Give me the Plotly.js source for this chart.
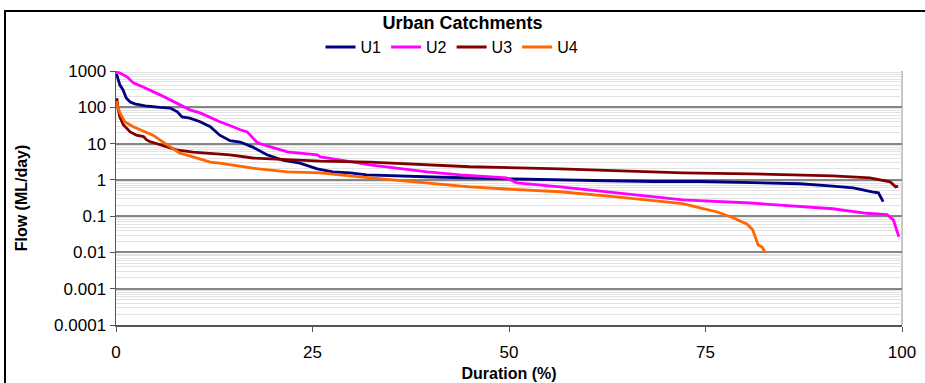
<!DOCTYPE html>
<html>
<head>
<meta charset="utf-8">
<script src="https://cdn.plot.ly/plotly-3.0.1.min.js"></script>
<style>
html,body{margin:0;padding:0;background:#fff;}
#wrap{position:relative;width:925px;height:383px;}
#chart{position:absolute;left:0;top:0;width:925px;height:383px;}
#frame{position:absolute;left:4px;top:10px;width:940px;height:400px;border-top:2px solid #000;border-left:2px solid #000;pointer-events:none;}
</style>
</head>
<body>
<div id="wrap"><div id="chart"></div><div id="frame"></div></div>
<script>
// Duration (%) and flow (ML/day) for each catchment
var u1Duration = [0, 0.1, 0.5, 0.9, 1.3, 1.8, 2.4, 3.7, 5.6, 6.9, 7.8, 8.4, 9.4, 10.7, 12, 13.2, 14.5, 15.8, 17.4, 19.2, 21.2, 23.4, 25.6, 27.6, 29.8, 31.9, 40.3, 44.7, 50.5, 60.7, 68.3, 74.3, 80.7, 87, 90.8, 93.8, 96.2, 97, 97.6];
var u1Flow = [820, 780, 410, 300, 180, 140, 124, 110, 100, 95, 75, 54, 50, 40, 29, 17, 12, 11, 8, 4.9, 3.5, 2.9, 2.0, 1.66, 1.56, 1.37, 1.2, 1.13, 1.06, 0.96, 0.9, 0.9, 0.83, 0.78, 0.68, 0.6, 0.47, 0.44, 0.25];

var u2Duration = [0, 0.5, 1.4, 2.2, 3.1, 4.3, 5.6, 6.9, 8.1, 9.4, 10.7, 12, 13.2, 14.9, 15.8, 16.7, 17.9, 18.3, 21.2, 21.8, 25.6, 26, 30.2, 32.3, 39.6, 43.8, 49.7, 51, 56.5, 63.7, 72.1, 80.7, 91.2, 95.5, 98.1, 98.9, 99.6];
var u2Flow = [950, 880, 690, 470, 390, 300, 220, 160, 116, 85, 70, 51, 40, 29, 24, 21, 11, 10, 6.7, 5.9, 4.9, 4.3, 3.1, 2.6, 1.66, 1.37, 1.13, 0.83, 0.64, 0.44, 0.28, 0.23, 0.16, 0.12, 0.11, 0.079, 0.027];

var u3Duration = [0.1, 0.25, 0.5, 0.93, 1.8, 2.6, 3.5, 3.9, 4.3, 5.6, 6.9, 7.7, 9.8, 12, 14.5, 17.4, 21.8, 26, 32.3, 39.6, 45, 56.5, 63.7, 72.1, 80.7, 91.2, 95.9, 98.5, 99.2, 99.5];
var u3Flow = [178, 96, 54, 33, 21, 17, 15.6, 12.6, 11.4, 9.2, 7.5, 6.7, 5.8, 5.4, 4.9, 4.0, 3.55, 3.3, 3.1, 2.6, 2.3, 2.0, 1.77, 1.56, 1.46, 1.29, 1.13, 0.88, 0.64, 0.68];

var u4Duration = [0.05, 0.13, 0.5, 1.1, 2.2, 3.1, 4.7, 6.0, 6.9, 8.1, 9.8, 12, 13.2, 14.5, 17.4, 21.8, 26, 31, 32.3, 39.6, 45, 49.7, 56.5, 63.7, 72.1, 74.3, 76.5, 78.5, 80.3, 81, 81.3, 81.7, 82.2, 82.6];
var u4Flow = [150, 116, 70, 40, 29, 24, 17, 11, 8.1, 5.5, 4.3, 3.1, 2.9, 2.6, 2.1, 1.66, 1.56, 1.2, 1.13, 0.83, 0.64, 0.56, 0.47, 0.34, 0.22, 0.17, 0.13, 0.09, 0.06, 0.042, 0.027, 0.016, 0.014, 0.0097];

var seriesNames = ['U1', 'U2', 'U3', 'U4'];
var xTicks = [0, 25, 50, 75, 100];
var yTicks = [0.0001, 0.001, 0.01, 0.1, 1, 10, 100, 1000];
var yTickLabels = ['0.0001', '0.001', '0.01', '0.1', '1', '10', '100', '1000'];

var colors = ['#000080', '#FF00FF', '#800000', '#FF6600'];
var xs = [u1Duration, u2Duration, u3Duration, u4Duration];
var ys = [u1Flow, u2Flow, u3Flow, u4Flow];

var traces = seriesNames.map(function (n, i) {
  return {
    x: xs[i], y: ys[i], name: n, type: 'scatter', mode: 'lines',
    line: {color: colors[i], width: 2.8, shape: 'linear'}
  };
});

var font = 'Liberation Sans, Arial, sans-serif';
var layout = {
  width: 925, height: 383,
  margin: {l: 116, r: 23, t: 71, b: 58},
  paper_bgcolor: '#fff', plot_bgcolor: '#fff',
  font: {family: font, color: '#000'},
  title: {text: '<b>Urban Catchments</b>', font: {size: 18, family: font, color: '#000'},
          x: 0.5, xref: 'container', xanchor: 'center', y: 0.94, yanchor: 'middle'},
  showlegend: true,
  legend: {orientation: 'h', x: 0.4275, xanchor: 'center', xref: 'paper', y: 1.094, yanchor: 'middle',
           font: {size: 16, family: font}, itemwidth: 30, tracegroupgap: 0, bgcolor: 'rgba(0,0,0,0)'},
  xaxis: {
    range: [0, 100], tickvals: xTicks, ticktext: xTicks.map(String),
    ticks: 'outside', ticklen: 5, tickcolor: '#555', tickwidth: 1,
    ticklabelstandoff: 6,
    showline: true, linecolor: '#555', linewidth: 1.5,
    showgrid: false, zeroline: false,
    tickfont: {size: 17, family: font},
    title: {text: '<b>Duration (%)</b>', font: {size: 16, family: font}, standoff: 7}
  },
  yaxis: {
    type: 'log', range: [-4, 3],
    tickvals: yTicks, ticktext: yTickLabels,
    ticks: 'outside', ticklen: 5, tickcolor: '#555', tickwidth: 1,
    showline: true, linecolor: '#555', linewidth: 1.5,
    showgrid: true, gridcolor: '#858585', gridwidth: 2,
    minor: {dtick: 'D1', showgrid: true, gridcolor: '#e2e2e2', gridwidth: 1, ticks: ''},
    zeroline: false,
    tickfont: {size: 17, family: font},
    title: {text: '<b>Flow (ML/day)</b>', font: {size: 16, family: font}, standoff: 22}
  },
  shapes: [{type: 'line', xref: 'paper', yref: 'paper', x0: 1, x1: 1, y0: 0, y1: 1,
            line: {color: '#b0b0b0', width: 1.5}, layer: 'below'}]
};

Plotly.newPlot('chart', traces, layout, {displayModeBar: false, staticPlot: true});
</script>
</body>
</html>
